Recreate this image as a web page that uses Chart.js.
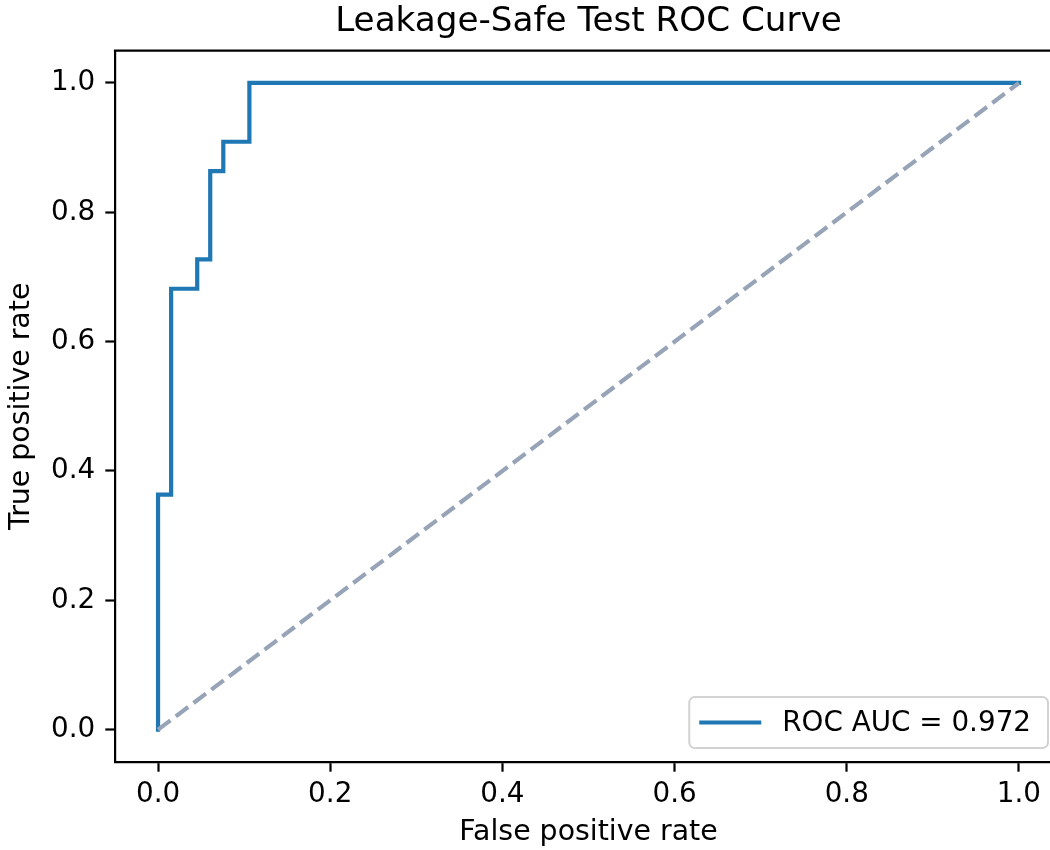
<!DOCTYPE html>
<html><head><meta charset="utf-8">
<script src="https://cdn.jsdelivr.net/npm/chart.js@4"></script>
<style>html,body{margin:0;padding:0;overflow:hidden;background:#fff;width:1050px;height:850px}</style>
</head><body>
<canvas id="c" width="1066" height="850" style="display:block;width:1066px;height:850px"></canvas>
<script>
// ROC curve points (sklearn-style, corner points included)
const fpr = [0, 0, 0.0152, 0.0152, 0.0455, 0.0455, 0.0606, 0.0606, 0.0758, 0.0758, 0.1061, 0.1061, 1.0];
const tpr = [0, 0.3636, 0.3636, 0.6818, 0.6818, 0.7273, 0.7273, 0.8636, 0.8636, 0.9091, 0.9091, 1.0, 1.0];
const chanceX = [0, 1];
const chanceY = [0, 1];
const xTicks = [0, 0.2, 0.4, 0.6, 0.8, 1.0];
const yTicks = [0, 0.2, 0.4, 0.6, 0.8, 1.0];
const rocLabel = 'ROC AUC = 0.972';
const titleText = 'Leakage-Safe Test ROC Curve';
const xLabel = 'False positive rate';
const yLabel = 'True positive rate';

const FONT = '"DejaVu Sans", "Liberation Sans", sans-serif';
const FS = 27.8;
const LFS = 28.4;

const spines = {
  id: 'spines',
  afterDatasetsDraw(chart) {
    const {ctx, chartArea: a} = chart;
    ctx.save();
    ctx.strokeStyle = '#000';
    ctx.lineWidth = 2.2;
    ctx.beginPath();
    ctx.moveTo(a.left - 1.1, a.top);
    ctx.lineTo(a.right + 1.1, a.top);
    ctx.moveTo(a.right, a.top);
    ctx.lineTo(a.right, a.bottom);
    ctx.stroke();
    ctx.restore();
  }
};

const innerLegend = {
  id: 'innerLegend',
  afterDraw(chart) {
    const {ctx, chartArea: a} = chart;
    const ds = chart.data.datasets[0];
    ctx.save();
    ctx.font = FS + 'px ' + FONT;
    const tw = ctx.measureText(ds.label).width;
    const w = tw + 110;
    const h = 51;
    const right = a.right - 14;
    const bottom = a.bottom - 14;
    const left = right - w, top = bottom - h;
    ctx.beginPath();
    ctx.roundRect(left, top, w, h, 5.5);
    ctx.fillStyle = 'rgba(255,255,255,0.85)';
    ctx.fill();
    ctx.strokeStyle = '#d2d2d2';
    ctx.lineWidth = 2;
    ctx.stroke();
    const cy = top + h / 2;
    ctx.beginPath();
    ctx.moveTo(left + 10, cy);
    ctx.lineTo(left + 72, cy);
    ctx.strokeStyle = ds.borderColor;
    ctx.lineWidth = 4.2;
    ctx.stroke();
    ctx.fillStyle = '#000';
    ctx.textBaseline = 'middle';
    ctx.textAlign = 'left';
    ctx.fillText(ds.label, left + 93, cy + 1);
    ctx.restore();
  }
};

new Chart(document.getElementById('c'), {
  type: 'scatter',
  data: {
    datasets: [
      {
        label: rocLabel,
        data: fpr.map((x, i) => ({x, y: tpr[i]})),
        showLine: true,
        borderColor: '#1f77b4',
        borderWidth: 4.2,
        pointRadius: 0,
        fill: false,
        tension: 0,
        order: 2,
        borderCapStyle: 'square',
        borderJoinStyle: 'miter'
      },
      {
        label: 'chance',
        data: chanceX.map((x, i) => ({x, y: chanceY[i]})),
        showLine: true,
        borderColor: '#97a3b6',
        borderWidth: 4.2,
        borderDash: [15.5, 6.7],
        pointRadius: 0,
        fill: false,
        order: 1
      }
    ]
  },
  options: {
    responsive: false,
    animation: false,
    devicePixelRatio: 1,
    layout: {padding: {left: 0, right: 4, top: 0, bottom: 0}},
    plugins: {
      legend: {display: false},
      tooltip: {enabled: false},
      title: {
        display: true,
        text: titleText,
        fullSize: false,
        color: '#000',
        font: {family: FONT, size: 34.2, weight: 'normal', lineHeight: 1.2},
        padding: {top: 1.5, bottom: 8.1}
      }
    },
    scales: {
      x: {
        type: 'linear',
        min: -0.05,
        max: 1.05,
        afterFit(s) { s.height = 88; },
        afterBuildTicks(s) { s.ticks = xTicks.map(v => ({value: v})); },
        ticks: {
          color: '#000',
          font: {family: FONT, size: FS},
          padding: 6,
          maxRotation: 0,
          autoSkip: false,
          callback: v => Number(v).toFixed(1)
        },
        grid: {display: true, drawOnChartArea: false, drawTicks: true, tickLength: 9.7, tickWidth: 2.2, tickColor: '#000'},
        border: {display: true, color: '#000', width: 2.2},
        title: {display: true, text: xLabel, color: '#000', font: {family: FONT, size: LFS, lineHeight: 1.2}, padding: {top: 0, bottom: 0}}
      },
      y: {
        type: 'linear',
        min: -0.05,
        max: 1.05,
        afterFit(s) { s.width = 115; },
        afterBuildTicks(s) { s.ticks = yTicks.map(v => ({value: v})); },
        ticks: {
          color: '#000',
          font: {family: FONT, size: FS},
          padding: 10,
          autoSkip: false,
          callback: v => Number(v).toFixed(1)
        },
        grid: {display: true, drawOnChartArea: false, drawTicks: true, tickLength: 9.7, tickWidth: 2.2, tickColor: '#000'},
        border: {display: true, color: '#000', width: 2.2},
        title: {display: true, text: yLabel, color: '#000', font: {family: FONT, size: LFS, lineHeight: 1.2}, padding: {top: 5, bottom: 0}}
      }
    }
  },
  plugins: [spines, innerLegend]
});
</script>
</body></html>
